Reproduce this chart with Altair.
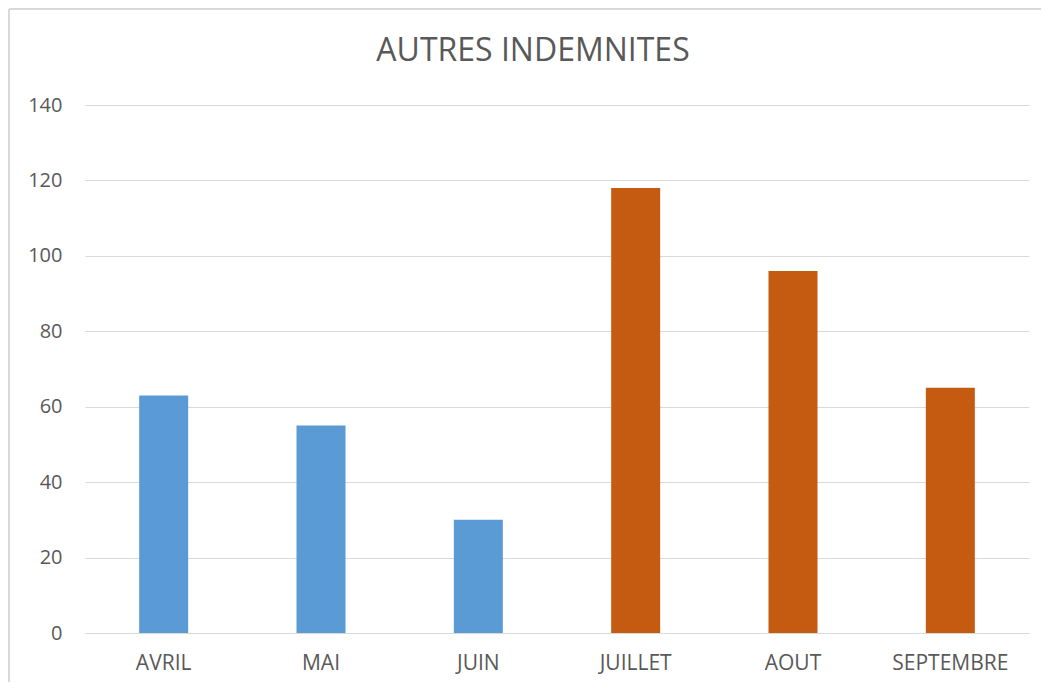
import altair as alt
import pandas as pd

mois = ["AVRIL", "MAI", "JUIN", "JUILLET", "AOUT", "SEPTEMBRE"]
valeurs = [63, 55, 30, 118, 96, 65]
couleurs = ["#5B9BD5", "#5B9BD5", "#5B9BD5", "#C55A11", "#C55A11", "#C55A11"]
y_ticks = [0, 20, 40, 60, 80, 100, 120, 140]
titre = "AUTRES INDEMNITES"

df = pd.DataFrame({"mois": mois, "valeur": valeurs})

FONT = "Open Sans"
TXT = "#595959"
GRID = "#D9D9D9"

bars = alt.Chart(df).mark_bar(size=49).encode(
    x=alt.X("mois:N", sort=mois,
            scale=alt.Scale(paddingInner=0, paddingOuter=0),
            axis=alt.Axis(title=None, labelAngle=0, ticks=False,
                          domainColor=GRID, domainWidth=1,
                          labelFont=FONT, labelFontSize=21, labelColor=TXT,
                          labelPadding=30, labelBaseline="middle")),
    y=alt.Y("valeur:Q", scale=alt.Scale(domain=[0, 140], nice=False),
            axis=alt.Axis(title=None, values=y_ticks, domain=False, ticks=False,
                          gridColor=GRID, gridWidth=1,
                          labelFont=FONT, labelFontSize=20, labelColor=TXT,
                          labelPadding=23)),
    color=alt.Color("mois:N", scale=alt.Scale(domain=mois, range=couleurs), legend=None),
)

frame_top = alt.Chart(alt.Data(values=[{}])).mark_rule(
    color=GRID, strokeWidth=2, clip=False
).encode(
    x=alt.value(-76), x2=alt.value(1100), y=alt.value(-96),
)
frame_left = alt.Chart(alt.Data(values=[{}])).mark_rule(
    color=GRID, strokeWidth=2, clip=False
).encode(
    x=alt.value(-76), y=alt.value(-96), y2=alt.value(620),
)

title_text = alt.Chart(alt.Data(values=[{"t": titre}])).mark_text(
    font=FONT, fontSize=32, color=TXT, align="center", baseline="alphabetic"
).encode(
    x=alt.value(448), y=alt.value(-44), text="t:N",
)

chart = alt.layer(frame_top, frame_left, bars, title_text).properties(
    width=944, height=528,
    autosize=alt.AutoSizeParams(type="none"),
    padding={"left": 77, "top": 97, "right": 12, "bottom": 49},
).configure_view(stroke=None)

chart.save("out.html", embed_options={"renderer": "svg", "actions": False})
